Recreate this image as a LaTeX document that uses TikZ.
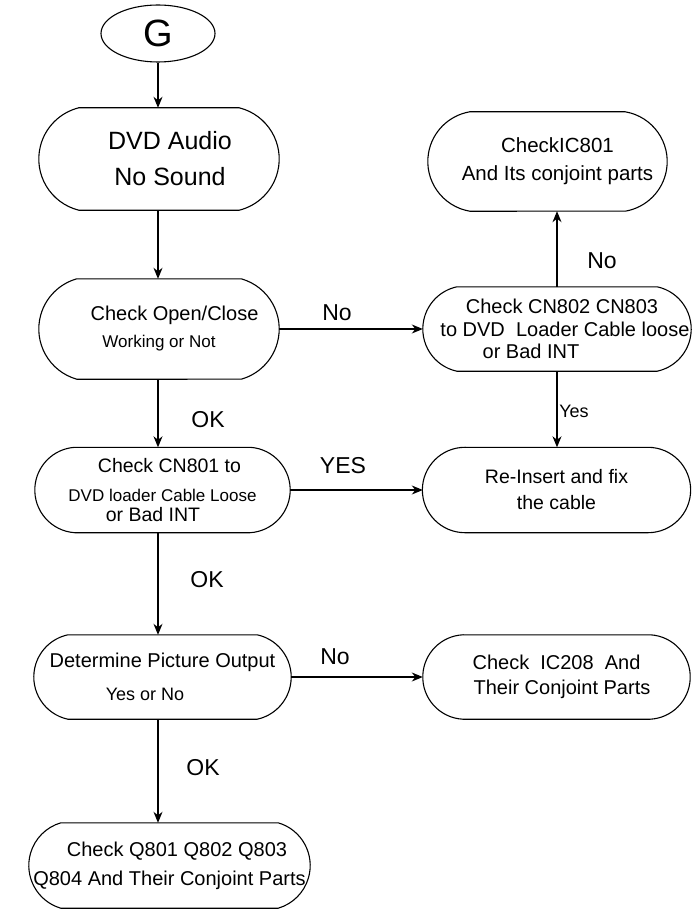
\documentclass[tikz,border=0pt]{standalone}
\usepackage{fontspec}
\setmainfont{Liberation Sans}
\usetikzlibrary{arrows.meta,calc,shapes.geometric}

% Outline of a flow box: straight top and bottom, ends made of circular
% arcs that bulge #1 pt beyond the ends of the straight edges.
% #1 = bulge of the ends (plain number, pt), #2 = name of the node
\newcommand\capsule[2][38]{%
  \draw[outline] let \p1=($(#2.north)-(#2.south)$),
      \n1={0.5*\y1},
      \n2={(\n1*\n1+#1*#1)/(2*#1)},
      \n3={asin(\n1/\n2)} in
    ([xshift=#1pt]#2.north west) -- ([xshift=-#1pt]#2.north east)
    arc[start angle=\n3,end angle=-\n3,radius=\n2]
    -- ([xshift=#1pt]#2.south west)
    arc[start angle=180+\n3,end angle=180-\n3,radius=\n2]
    -- cycle;}

\tikzset{
  outline/.style={line width=1.1pt},
  box/.style={rectangle, inner sep=0pt, align=center,
    font=\fontsize{20}{25}\selectfont},
  arr/.style={line width=1.1pt,
    -{Stealth[length=11pt,width=9pt,inset=3.5pt]}},
  lbl/.style={inner sep=0pt, font=\fontsize{23}{23}\selectfont},
}

\begin{document}
\begin{tikzpicture}[x=1pt,y=1pt]
\useasboundingbox (0,0) rectangle (700,-915);

% start terminal
\node[ellipse, draw, line width=1.1pt, minimum width=114pt,
      minimum height=57pt, inner sep=0pt,
      font=\fontsize{38}{38}\selectfont] (G) at (158,-33.5) {G};

% left column
\node[box, minimum width=240pt, minimum height=102pt,
      font=\fontsize{25}{36}\selectfont] (dvd) at (159,-159)
  {\hspace*{22pt}DVD Audio\\\hspace*{22pt}No Sound};

\node[box, minimum width=240pt, minimum height=100pt,
      font=\fontsize{20}{27}\selectfont] (open) at (159,-329)
  {\hspace*{31pt}Check Open/Close\\{\fontsize{17}{27}\selectfont Working or Not}};

\node[box, minimum width=255pt, minimum height=85pt,
      font=\fontsize{19.5}{20}\selectfont] (cn801) at (162.5,-490)
  {\hspace*{14pt}Check CN801 to\\[9pt]
   {\fontsize{17}{20}\selectfont DVD loader Cable Loose}\\
   or Bad INT\hspace*{19pt}};

\node[box, minimum width=257pt, minimum height=84pt,
      font=\fontsize{20}{33.5}\selectfont] (det) at (162.5,-677)
  {Determine Picture Output\\{\fontsize{18}{33.5}\selectfont Yes or No}\hspace*{35pt}};

\node[box, minimum width=281pt, minimum height=85pt,
      font=\fontsize{20}{29}\selectfont] (q801) at (169.5,-865.5)
  {\hspace*{15pt}Check Q801 Q802 Q803\\Q804 And Their Conjoint Parts};

% right column
\node[box, minimum width=239pt, minimum height=99pt,
      font=\fontsize{20.5}{28}\selectfont] (ic801) at (547.5,-161.5)
  {\hspace*{20pt}CheckIC801\\\hspace*{20pt}And Its conjoint parts};

\node[box, minimum width=268pt, minimum height=84pt,
      font=\fontsize{20}{22.5}\selectfont] (cn802) at (557,-329)
  {\hspace*{10pt}Check CN802 CN803\\
   \hspace*{16pt}to DVD~~Loader Cable loose\\
   or Bad INT\hspace*{52pt}};

\node[box, minimum width=267pt, minimum height=85pt,
      font=\fontsize{19.5}{26}\selectfont] (reins) at (556.5,-490)
  {Re-Insert and fix\\the cable};

\node[box, minimum width=267pt, minimum height=84pt,
      font=\fontsize{20}{25}\selectfont] (ic208) at (556.5,-677)
  {Check~~IC208~~And\\\hspace*{11pt}Their Conjoint Parts};

% box outlines
\capsule[40]{dvd}
\capsule[38]{open}
\capsule[40]{cn801}
\capsule[34]{det}
\capsule[32]{q801}
\capsule[42]{ic801}
\capsule[34]{cn802}
\capsule[42]{reins}
\capsule[40]{ic208}

% connectors
\draw[arr] (G.south) -- (G.south |- dvd.north);
\draw[arr] (dvd.south -| G.south) -- (open.north -| G.south);
\draw[arr] (open.south -| G.south) -- (cn801.north -| G.south);
\draw[arr] (cn801.south -| G.south) -- (det.north -| G.south);
\draw[arr] (det.south -| G.south) -- (q801.north -| G.south);
\draw[arr] (open.east) -- (cn802.west);
\draw[arr] (cn802.north) -- (cn802.north |- ic801.south);
\draw[arr] (cn802.south) -- (cn802.south |- reins.north);
\draw[arr] (cn801.east) -- (reins.west);
\draw[arr] (det.east) -- (ic208.west);

% connector labels
\node[lbl] (noA) at (337,-313) {No};
\node[lbl] (noB) at (602,-261) {No};
\node[lbl, font=\fontsize{18}{18}\selectfont] (yesA) at (574,-411) {Yes};
\node[lbl] (okA) at (208,-420) {OK};
\node[lbl] (yesB) at (343,-466) {YES};
\node[lbl] (okB) at (207,-580) {OK};
\node[lbl] (noC) at (335,-657) {No};
\node[lbl] (okC) at (203,-768) {OK};
\end{tikzpicture}
\end{document}
